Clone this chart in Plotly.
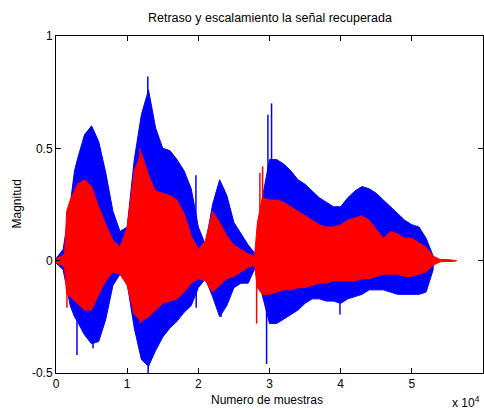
import plotly.graph_objects as go

# envelope of the blue signal (sample index, upper, lower)
blue_x = [0, 1000, 2000, 2600, 3000, 4000, 5000, 6000, 7000, 8000, 9000,
          10000, 11000, 12000, 13000, 14000, 15000, 16000, 17000, 18000, 19000,
          20000, 21000, 22000, 23000, 24000, 25000, 26000, 27000, 28000, 29000,
          30000, 31000, 32000, 33000, 34000, 35000, 36000, 37000, 38000, 39000,
          40000, 41000, 42000, 43000, 44000, 45000, 46000, 47000, 48000, 49000,
          50000, 51000, 52000, 53000]
blue_upper = [0.01, 0.05, 0.25, 0.40, 0.45, 0.56, 0.60, 0.53, 0.39, 0.22, 0.13,
              0.15, 0.45, 0.65, 0.76, 0.59, 0.50, 0.49, 0.45, 0.40, 0.32,
              0.15, 0.07, 0.25, 0.36, 0.29, 0.17, 0.12, 0.07, 0.03, 0.28,
              0.45, 0.45, 0.43, 0.40, 0.36, 0.34, 0.31, 0.28, 0.26, 0.24,
              0.24, 0.28, 0.31, 0.33, 0.32, 0.30, 0.27, 0.24, 0.21, 0.18,
              0.16, 0.15, 0.10, 0.02]
blue_lower = [-0.01, -0.04, -0.20, -0.25, -0.27, -0.33, -0.37, -0.36, -0.26, -0.11, -0.06,
              -0.10, -0.30, -0.44, -0.47, -0.40, -0.34, -0.30, -0.27, -0.23, -0.20,
              -0.12, -0.08, -0.16, -0.25, -0.20, -0.12, -0.10, -0.10, -0.03, -0.15,
              -0.28, -0.28, -0.26, -0.24, -0.22, -0.19, -0.17, -0.17, -0.18, -0.18,
              -0.19, -0.17, -0.16, -0.15, -0.13, -0.13, -0.13, -0.14, -0.15, -0.15,
              -0.15, -0.15, -0.14, -0.04]

# envelope of the red signal
red_x = [0, 800, 1200, 1500, 2000, 3000, 4000, 5000, 6000, 7000, 8000, 9000,
         10000, 11000, 12000, 13000, 14000, 15000, 16000, 17000, 18000, 19000,
         20000, 21000, 22000, 23000, 24000, 25000, 26000, 27000, 27900, 28300, 29000,
         30000, 31000, 32000, 33000, 34000, 35000, 36000, 37000, 38000, 39000,
         40000, 41000, 42000, 43000, 44000, 45000, 46000, 47000, 48000, 49000,
         50000, 51000, 52000, 53000, 54000, 55000, 56000, 56300]
red_upper = [0.01, 0.02, 0.03, 0.22, 0.27, 0.34, 0.36, 0.33, 0.24, 0.16, 0.09, 0.06,
             0.15, 0.40, 0.48, 0.38, 0.31, 0.30, 0.29, 0.27, 0.21, 0.11,
             0.05, 0.09, 0.22, 0.17, 0.11, 0.07, 0.05, 0.03, 0.02, 0.17, 0.28,
             0.27, 0.27, 0.26, 0.24, 0.22, 0.20, 0.18, 0.16, 0.15, 0.15,
             0.16, 0.18, 0.19, 0.20, 0.18, 0.14, 0.10, 0.13, 0.12, 0.10,
             0.10, 0.08, 0.06, 0.02, 0.005, 0.005, 0.003, 0.0]
red_lower = [-0.01, -0.02, -0.03, -0.15, -0.16, -0.19, -0.22, -0.22, -0.15, -0.09, -0.05, -0.06,
             -0.11, -0.24, -0.27, -0.25, -0.22, -0.19, -0.18, -0.17, -0.14, -0.10,
             -0.08, -0.09, -0.14, -0.11, -0.08, -0.07, -0.05, -0.03, -0.02, -0.12, -0.15,
             -0.15, -0.14, -0.13, -0.13, -0.12, -0.12, -0.11, -0.10, -0.10, -0.09,
             -0.09, -0.09, -0.09, -0.08, -0.08, -0.07, -0.06, -0.06, -0.06, -0.07,
             -0.07, -0.06, -0.05, -0.02, -0.005, -0.005, -0.003, 0.0]

# isolated spikes
blue_spike_x = [2950, 5200, 12900, 12950, 19660, 19700, 23200, 29590, 29780, 30290, 39900]
blue_spike_y = [-0.42, -0.39, 0.82, -0.50, 0.38, -0.21, -0.25, -0.46, 0.65, 0.70, -0.24]
red_spike_x = [1540, 11800, 11850, 28190, 28650, 29030]
red_spike_y = [-0.21, 0.50, -0.28, -0.28, 0.39, 0.42]

x_ticks = [0, 10000, 20000, 30000, 40000, 50000, 60000]
x_ticklabels = ["0", "1", "2", "3", "4", "5", "6"]
y_ticks = [-0.5, 0, 0.5, 1]
y_ticklabels = ["-0.5", "0", "0.5", "1"]

BLUE = "rgb(0,0,255)"
RED = "rgb(255,0,0)"


def band(xs, up, lo, color):
    return go.Scatter(x=xs + xs[::-1], y=up + lo[::-1], fill="toself",
                      fillcolor=color, mode="lines",
                      line=dict(color=color, width=1), hoverinfo="skip",
                      showlegend=False)


def spikes(xs, ys, color):
    sx, sy = [], []
    for a, b in zip(xs, ys):
        sx += [a, a, None]
        sy += [0, b, None]
    return go.Scatter(x=sx, y=sy, mode="lines",
                      line=dict(color=color, width=1.5),
                      hoverinfo="skip", showlegend=False)


fig = go.Figure()
fig.add_trace(band(blue_x, blue_upper, blue_lower, BLUE))
fig.add_trace(spikes(blue_spike_x, blue_spike_y, BLUE))
fig.add_trace(band(red_x, red_upper, red_lower, RED))
fig.add_trace(spikes(red_spike_x, red_spike_y, RED))

font = "Liberation Sans, Arial, sans-serif"
axis_common = dict(showgrid=False, zeroline=False, showline=True,
                   linecolor="black", linewidth=1, mirror="ticks",
                   ticks="inside", ticklen=5, tickcolor="black",
                   tickfont=dict(family=font, size=12, color="black"))

fig.update_layout(
    width=484, height=411,
    margin=dict(l=56, r=1, t=36, b=38),
    paper_bgcolor="white", plot_bgcolor="white",
    font=dict(family=font, size=12, color="black"),
    xaxis=dict(range=[0, 60000], tickvals=x_ticks, ticktext=x_ticklabels, **axis_common),
    yaxis=dict(range=[-0.5, 1], tickvals=y_ticks, ticktext=y_ticklabels, **axis_common),
    annotations=[
        dict(text="Retraso y escalamiento la señal recuperada", xref="paper", yref="paper",
             x=0.5, y=1, yshift=18, xanchor="center", yanchor="middle",
             showarrow=False, font=dict(size=12.5)),
        dict(text="Numero de muestras", xref="paper", yref="paper",
             x=0.495, y=0, yshift=-27, xanchor="center", yanchor="middle",
             showarrow=False, font=dict(size=12)),
        dict(text="Magnitud", xref="paper", yref="paper", textangle=-90,
             x=0, xshift=-40, y=0.5, xanchor="center", yanchor="middle",
             showarrow=False, font=dict(size=12)),
        dict(text="x 10<sup>4</sup>", xref="paper", yref="paper",
             x=0.998, y=0, yshift=-29, xanchor="right", yanchor="middle",
             showarrow=False, font=dict(size=12)),
    ],
)

fig.write_html("out.html")
